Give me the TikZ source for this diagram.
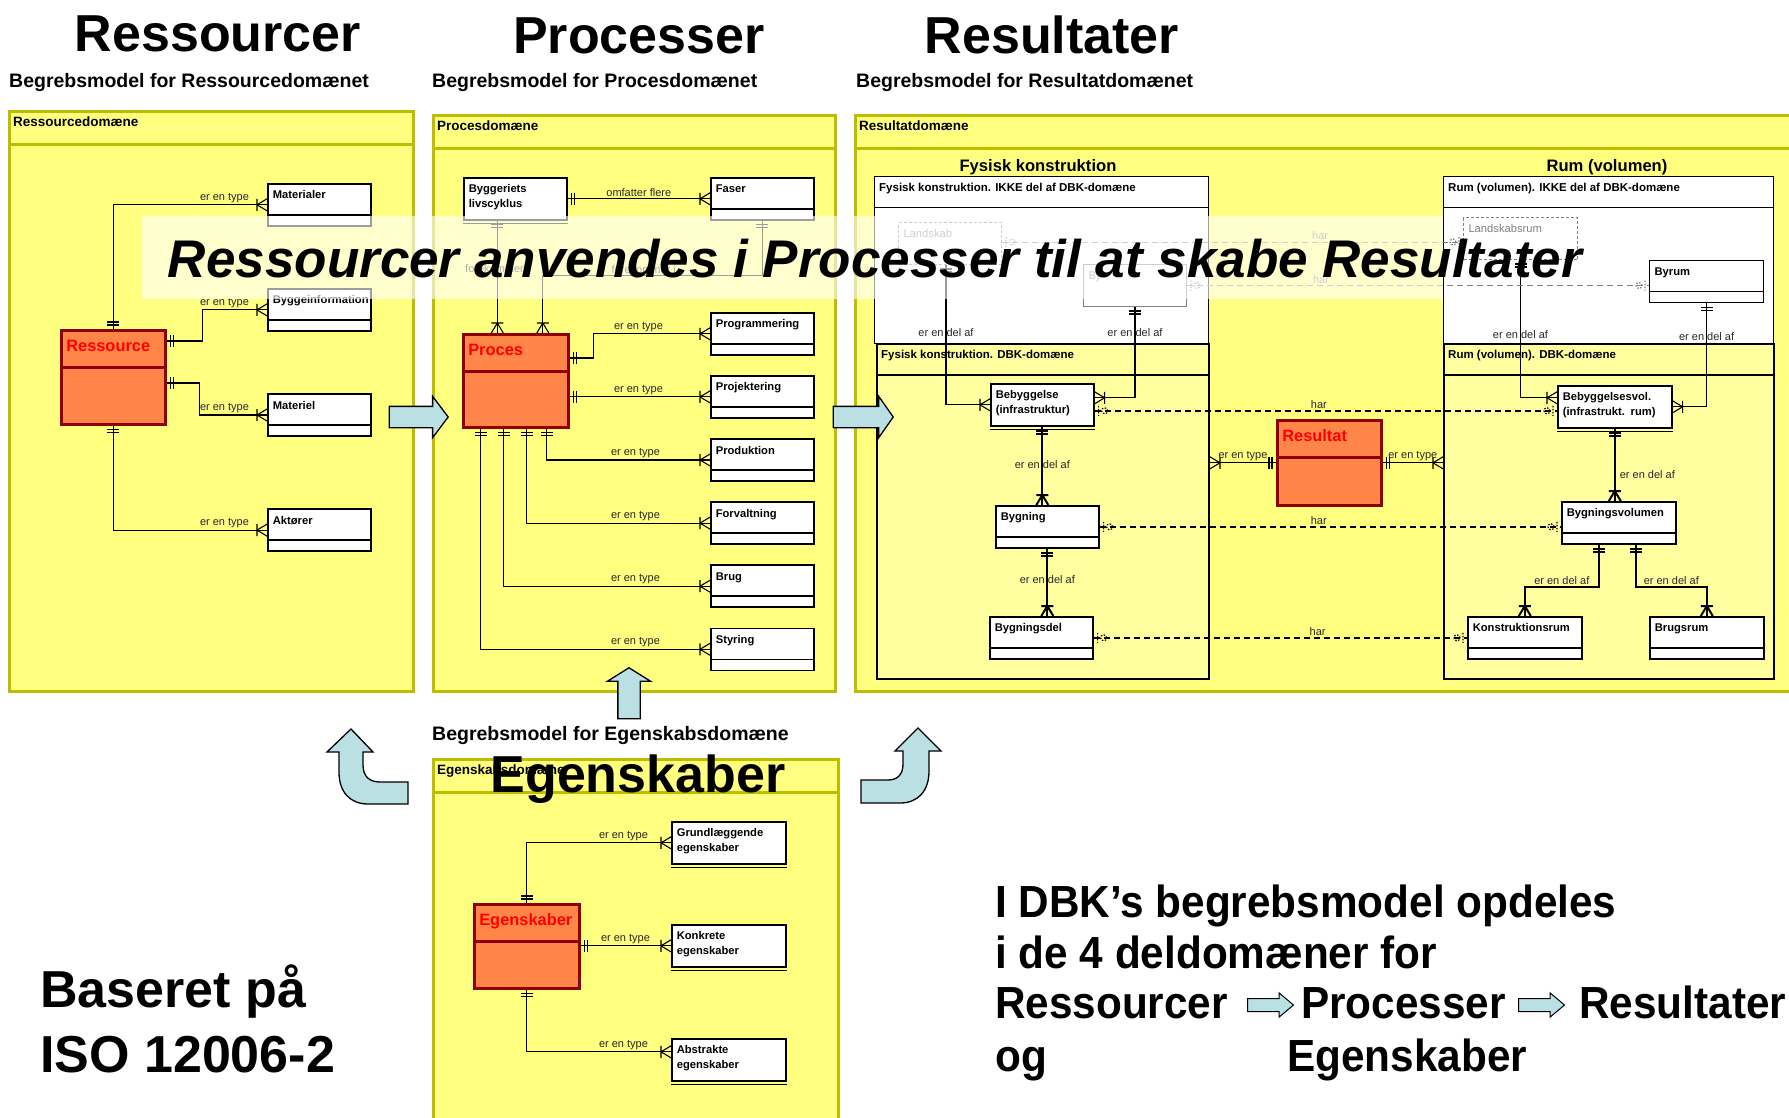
\documentclass[tikz,border=0pt]{standalone}
\usepackage{fontspec}
\setmainfont{Liberation Sans}
\newfontfamily\narrowfont{Liberation Sans}[FakeStretch=0.94]
\usepackage{xcolor}
\usetikzlibrary{arrows.meta,positioning,shapes.arrows,decorations.markings}
\definecolor{domyellow}{RGB}{255,255,128}
\definecolor{domborder}{RGB}{190,190,0}
\definecolor{dbkyellow}{RGB}{255,255,160}
\definecolor{keyorange}{RGB}{255,133,72}
\definecolor{keyred}{RGB}{145,0,0}
\definecolor{flowblue}{RGB}{187,224,227}
\definecolor{relgray}{RGB}{40,40,40}
\hyphenpenalty=10000
\exhyphenpenalty=10000

\begin{document}
\begin{tikzpicture}[x=1pt,y=-1pt,
  bigtitle/.style={anchor=base,inner sep=0,font=\bfseries\fontsize{52}{60}\selectfont},
  subtitle/.style={anchor=base west,inner sep=0,font=\bfseries\fontsize{19.5}{23}\selectfont},
  dompanel/.style={draw=domborder,line width=3,fill=domyellow,anchor=north west,
    path picture={\draw[domborder,line width=3] ([yshift=-33pt]path picture bounding box.north west) -- ([yshift=-33pt]path picture bounding box.north east);}},
  domhead/.style={anchor=north west,inner xsep=5,inner ysep=7,font=\bfseries\fontsize{13.5}{16}\selectfont},
  subdom/.style={draw,line width=1.4,fill=white,anchor=north west,
    path picture={\draw[line width=1.4] ([yshift=-31pt]path picture bounding box.north west) -- ([yshift=-31pt]path picture bounding box.north east);}},
  subhead/.style={anchor=north west,inner xsep=5,inner ysep=6.5,font=\bfseries\fontsize{11.5}{14}\selectfont},
  ebox/.style={draw,line width=1.6,fill=white,anchor=north west,align=left,
    inner xsep=5,inner ysep=4,text width=93pt,text height=11pt,text depth=23pt,
    font=\bfseries\fontsize{11.2}{14.5}\selectfont},
  entity/.style={ebox,path picture={\draw[line width=1.6] ([yshift=11pt]path picture bounding box.south west) -- ([yshift=11pt]path picture bounding box.south east);}},
  wide/.style={text width=104pt},
  ghost/.style={ebox,draw=gray,line width=1,text=gray,font=\fontsize{11.2}{14.5}\selectfont},
  keyentity/.style={draw=keyred,line width=2.6,fill=keyorange,anchor=north west,align=left,
    inner xsep=5,inner ysep=4,text width=94pt,text height=17pt,text=red,
    font=\bfseries\fontsize{16.4}{19}\selectfont,
    path picture={\draw[keyred,line width=2.6] ([yshift=-37pt]path picture bounding box.north west) -- ([yshift=-37pt]path picture bounding box.north east);}},
  rel/.style={inner sep=1.5,text=relgray,font=\fontsize{11}{13}\selectfont},
  link/.style={line width=1.1},
  tlink/.style={line width=2},
  onemany/.style={postaction={decorate,decoration={markings,
    mark=at position 0 with {\draw (4,-6) -- (4,6) (7,-6) -- (7,6);},
    mark=at position 1 with {\draw (-10,-6) -- (-10,6) (-10,0) -- (0,-6) (-10,0) -- (0,6);}}}},
  har/.style={line width=1.8,dash pattern=on 6pt off 4pt,
    postaction={decorate,decoration={markings,
    mark=at position 0 with {\draw[line width=1.2,dash pattern=on 1.5pt off 1.5pt] (4,-5) -- (4,5) (10,0) circle (3pt);},
    mark=at position 1 with {\draw[line width=1.2,dash pattern=on 1.5pt off 1.5pt] (-4,-5) -- (-4,5) (-10,0) circle (3pt);}}}},
  flow/.style={single arrow,draw,line width=1.3,fill=flowblue,inner xsep=0pt,inner ysep=10pt,
    single arrow head extend=10pt,single arrow tip angle=106,minimum height=59pt},
  smallflow/.style={flow,line width=1,inner ysep=6pt,single arrow head extend=5.5pt,
    single arrow tip angle=80,minimum height=46pt},
  note/.style={anchor=base west,inner sep=0,font=\narrowfont\bfseries\fontsize{45}{52}\selectfont}]
\fill[white] (0,0) rectangle (1789,1117);
\useasboundingbox (0,0) rectangle (1789,1117);

% overskrifter
\node[bigtitle] (tres) at (218,51) {Ressourcer};
\node[bigtitle] (tproc) at (639,53) {Processer};
\node[bigtitle] (tresu) at (1052,53) {Resultater};
\node[subtitle] (sres) at (9,87) {Begrebsmodel for Ressourcedomænet};
\node[subtitle] (sproc) at (432,87) {Begrebsmodel for Procesdomænet};
\node[subtitle] (sresu) at (856,87) {Begrebsmodel for Resultatdomænet};
\node[subtitle] (segen) at (432,740) {Begrebsmodel for Egenskabsdomæne};

% domæner
\node[dompanel,minimum width=404pt,minimum height=580pt,label={[domhead]north west:Ressourcedomæne}] (rdom) at (8,110) {};
\node[dompanel,minimum width=402pt,minimum height=576pt,label={[domhead]north west:Procesdomæne}] (pdom) at (432,114) {};
\node[dompanel,minimum width=960pt,minimum height=576pt,label={[domhead]north west:Resultatdomæne}] (rsdom) at (854,114) {};
\node[dompanel,minimum width=405pt,minimum height=400pt,label={[domhead]north west:Egenskabsdomæne}] (edom) at (432,758) {};

\node[anchor=base,font=\bfseries\fontsize{16.6}{20}\selectfont] (tfys) at (1038,171) {Fysisk konstruktion};
\node[anchor=base,font=\bfseries\fontsize{16.6}{20}\selectfont] (trum) at (1607,171) {Rum (volumen)};
\node[subdom,minimum width=334pt,minimum height=167pt,label={[subhead]north west:Fysisk konstruktion. IKKE del af DBK-domæne}] (fysikke) at (874,176) {};
\node[subdom,fill=dbkyellow,line width=2,minimum width=332pt,minimum height=335pt,label={[subhead]north west:Fysisk konstruktion. DBK-domæne}] (fysdbk) at (876,343) {};
\node[subdom,minimum width=330pt,minimum height=167pt,label={[subhead]north west:Rum (volumen). IKKE del af DBK-domæne}] (rumikke) at (1443,176) {};
\node[subdom,fill=dbkyellow,line width=2,minimum width=330pt,minimum height=335pt,label={[subhead]north west:Rum (volumen). DBK-domæne}] (rumdbk) at (1443,343) {};

% ressourcer
\node[keyentity,text depth=69pt] (res) at (60,329) {Ressource};
\node[entity] (mat) at (267,183) {Materialer};
\node[entity,below=61.5pt of mat] (bygi) {Byggeinformation};
\node[entity,below=61.5pt of bygi] (mtl) {Materiel};
\node[entity,below=71.5pt of mtl] (akt) {Aktører};

% processer
\node[keyentity,text depth=68pt,text width=95pt] (proc) at (462,333) {Proces};
\node[ebox] (byg) at (463,177) {Byggeriets\\livscyklus};
\node[entity] (fas) at (710,177) {Faser};
\node[entity] (prg) at (710,312) {Programmering};
\node[entity,below=19.5pt of prg] (prj) {Projektering};
\node[entity,below=19.5pt of prj] (prd) {Produktion};
\node[entity,below=19.5pt of prd] (frv) {Forvaltning};
\node[entity,below=19.5pt of frv] (brg) {Brug};
\node[entity,below=19.5pt of brg] (sty) {Styring};

% resultater
\node[ghost,densely dashed] (land) at (898,222) {Landskab};
\node[ghost] (by) at (1083,264) {By};
\node[ghost,densely dashed,wide] (lrum) at (1463,217) {Landskabsrum};
\node[entity,wide,line width=1.2] (byrum) at (1649,260) {Byrum};
\node[ebox] (beb) at (990,383) {Bebyggelse\\(infrastruktur)};
\node[entity] (bygn) at (995,505) {Bygning};
\node[entity] (bdel) at (989,616) {Bygningsdel};
\node[keyentity,text depth=60pt] (result) at (1276,419) {Resultat};
\node[ebox,wide] (bvol) at (1557,385) {Bebyggelsesvol.\\(infrastrukt. rum)};
\node[entity,wide] (bvolu) at (1561,501) {Bygningsvolumen};
\node[entity,wide] (krum) at (1467,616) {Konstruktionsrum};
\node[entity,wide] (brum) at (1649,616) {Brugsrum};

% egenskaber
\node[keyentity,text depth=59pt,text width=95pt] (egen) at (473,903) {Egenskaber};
\node[ebox,wide] (grund) at (671,821) {Grundlæggende\\egenskaber};
\node[ebox,wide] (konk) at (671,924) {Konkrete\\egenskaber};
\node[ebox,wide] (abst) at (671,1038) {Abstrakte\\egenskaber};
\foreach \n in {byg,beb,bvol,grund,konk,abst}
  \draw[line width=0.8] ([yshift=-3pt]\n.south west) -- ([yshift=-3pt]\n.south east);

% relationer
\draw[link,onemany] (res.north) |- (mat.west) node[rel,pos=1,anchor=south east,xshift=-16pt] {er en type};
\draw[link,onemany] ([yshift=-12pt]res.north east) -- ++(36,0) |- (bygi.west) node[rel,pos=1,anchor=south east,xshift=-16pt] {er en type};
\draw[link,onemany] ([yshift=-54pt]res.north east) -- ++(33,0) |- (mtl.west) node[rel,pos=1,anchor=south east,xshift=-16pt] {er en type};
\draw[link,onemany] (res.south) |- (akt.west) node[rel,pos=1,anchor=south east,xshift=-16pt] {er en type};

\draw[link,onemany] (byg.east) -- (fas.west) node[rel,midway,above] {omfatter flere};
\draw[link,onemany] ([xshift=-18pt]byg.south) -- ([xshift=-18pt]byg.south |- proc.north) node[rel,pos=0.43] {forekommer i};
\draw[link,onemany] (fas.south) -- ++(0,55) -| ([xshift=27pt]proc.north) node[rel,pos=0.27,above] {forekommer i};
\draw[link,onemany] ([yshift=-25pt]proc.north east) -- ++(24,0) |- (prg.west) node[rel,pos=1,anchor=south east,xshift=-45pt] {er en type};
\draw[link,onemany] (proc.east |- prj.west) -- (prj.west) node[rel,pos=1,anchor=south east,xshift=-45pt] {er en type};
\draw[link,onemany] ([xshift=31pt]proc.south) |- (prd.west) node[rel,pos=1,anchor=south east,xshift=-48pt] {er en type};
\draw[link,onemany] ([xshift=11pt]proc.south) |- (frv.west) node[rel,pos=1,anchor=south east,xshift=-48pt] {er en type};
\draw[link,onemany] ([xshift=-12pt]proc.south) |- (brg.west) node[rel,pos=1,anchor=south east,xshift=-48pt] {er en type};
\draw[link,onemany] ([xshift=-35pt]proc.south) |- (sty.west) node[rel,pos=1,anchor=south east,xshift=-48pt] {er en type};

\draw[link,onemany] ([xshift=-4pt]land.south) |- (beb.west) node[rel,pos=0.24] {er en del af};
\draw[link,onemany] (by.south) |- ([yshift=7pt]beb.east) node[rel,pos=0.14] {er en del af};
\draw[tlink,onemany] (beb.south) -- (beb.south |- bygn.north) node[rel,pos=0.48] {er en del af};
\draw[tlink,onemany] (bygn.south) -- (bygn.south |- bdel.north) node[rel,pos=0.46] {er en del af};
\draw[link,onemany] (result.west) -- (result.west -| fysdbk.east) node[rel,midway,above] {er en type};
\draw[link,onemany] (result.east) -- (result.east -| rumdbk.west) node[rel,midway,above] {er en type};
\draw[link,onemany] (lrum.south) |- ([yshift=9pt]bvol.west) node[rel,pos=0.27] {er en del af};
\draw[link,onemany] (byrum.south) |- (bvol.east) node[rel,pos=0.16] {er en del af};
\draw[tlink,onemany] (bvol.south) -- (bvol.south |- bvolu.north) node[rel,pos=0.64,right,inner sep=4] {er en del af};
\draw[tlink,onemany] ([xshift=-20pt]bvolu.south) -- ++(0,42) -| (krum.north) node[rel,pos=0.25,above] {er en del af};
\draw[tlink,onemany] ([xshift=17pt]bvolu.south) -- ++(0,42) -| (brum.north) node[rel,pos=0.25,above] {er en del af};

\draw[har] ([yshift=-6pt]beb.east) -- ([yshift=-6pt]beb.east -| bvol.west) node[rel,pos=0.485,above] {har};
\draw[har] (bygn.east) -- (bygn.east -| bvolu.west) node[rel,pos=0.475,above] {har};
\draw[har] (bdel.east) -- (bdel.east -| krum.west) node[rel,pos=0.6,above] {har};
\draw[har,line width=1,gray] ([yshift=-20pt]land.north east) -- ([yshift=-20pt]land.north east -| lrum.west) node[rel,pos=0.69,above,text=gray] {har};
\draw[har,line width=1,gray] (by.east) -- (by.east -| byrum.west) node[rel,pos=0.29,above,text=gray] {har};

\draw[link,onemany] (egen.north) |- (grund.west) node[rel,pos=1,anchor=south east,xshift=-21pt] {er en type};
\draw[link,onemany] (egen.east |- konk.west) -- (konk.west) node[rel,pos=1,anchor=south east,xshift=-19pt] {er en type};
\draw[link,onemany] (egen.south) |- ([yshift=8pt]abst.west) node[rel,pos=1,anchor=south east,xshift=-21pt] {er en type};

% pile mellem domæner
\node[flow,anchor=tip] (rp) at (449,417) {};
\node[flow,anchor=tip,minimum height=60pt,single arrow tip angle=110] (pr) at (894,417) {};
\node[flow,anchor=tip,rotate=90,minimum height=51pt,inner ysep=10.5pt,single arrow head extend=10.5pt,single arrow tip angle=116] (ep) at (629,667) {};
\draw[line width=1.3,fill=flowblue] (408,782) -- (380,782) .. controls (369,782) and (363,776) .. (363,765)
  -- (363,752) -- (373,752) -- (351,729) -- (327,752) -- (339,752) -- (339,772)
  .. controls (339,792) and (350,804) .. (368,804) -- (408,804) -- cycle;
\draw[line width=1.3,fill=flowblue] (861,780) -- (888,780) .. controls (898,780) and (903,774) .. (903,764)
  -- (903,751) -- (895,751) -- (918,728) -- (941,751) -- (929,751) -- (929,771)
  .. controls (929,791) and (918,803) .. (900,803) -- (861,803) -- cycle;

% gennemsigtigt baand
\fill[white,opacity=0.62] (142,216) rectangle (1443,299);
\node[anchor=base,inner sep=0,font=\bfseries\itshape\fontsize{53}{60}\selectfont] (motto) at (875,277) {Ressourcer anvendes i Processer til at skabe Resultater};
\node[bigtitle] (tegen) at (638,792) {Egenskaber};

% tekst nederst
\node[anchor=base west,inner sep=0,font=\bfseries\fontsize{52}{60}\selectfont] (base1) at (40,1007) {Baseret på};
\node[anchor=base west,inner sep=0,font=\bfseries\fontsize{52}{60}\selectfont] (base2) at (40,1072) {ISO 12006-2};
\node[note] (n1) at (995,917) {I DBK’s begrebsmodel opdeles};
\node[note] (n2) at (995,968) {i de 4 deldomæner for};
\node[note] (n3) at (995,1018) {Ressourcer};
\node[smallflow,anchor=tail] (na1) at (1247,1005) {};
\node[note] (n4) at (1301,1018) {Processer};
\node[smallflow,anchor=tail] (na2) at (1518,1005) {};
\node[note] (n5) at (1579,1018) {Resultater};
\node[note] (n6) at (995,1071) {og};
\node[note] (n7) at (1287,1071) {Egenskaber};
\end{tikzpicture}
\end{document}
